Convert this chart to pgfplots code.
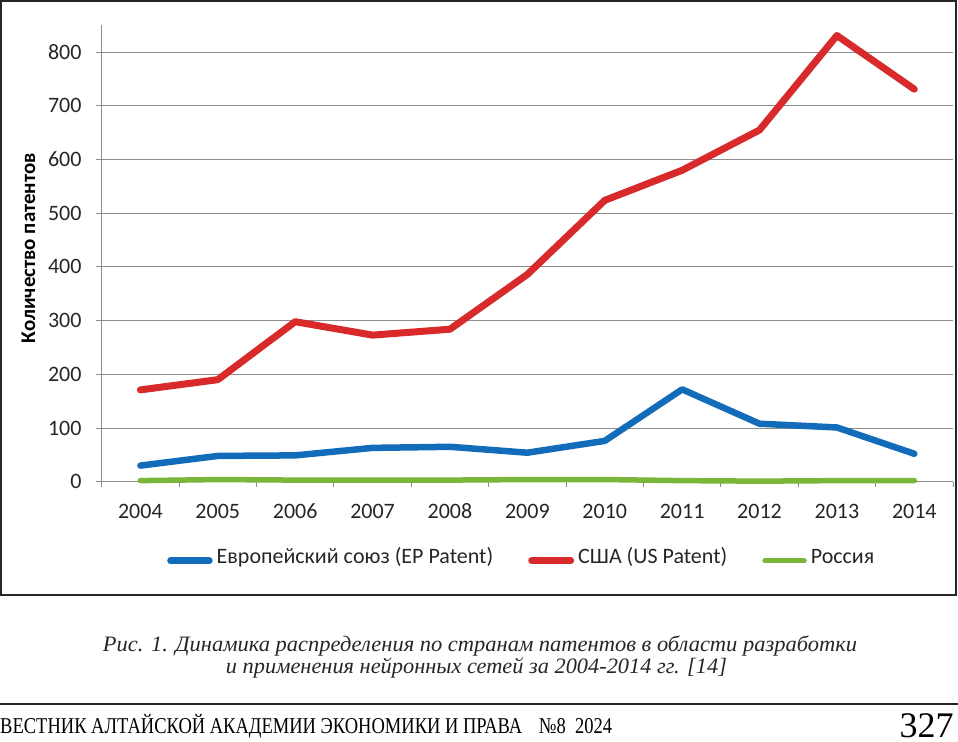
\documentclass[border=0pt]{standalone}
\usepackage{fontspec}
\setmainfont{Carlito}
\newfontfamily\serif{Liberation Serif}
\usepackage{graphicx}
\usepackage{pgfplots}
\pgfplotsset{compat=1.18}
\definecolor{eublue}{RGB}{18,108,186}
\definecolor{usred}{RGB}{216,42,42}
\definecolor{rugreen}{RGB}{122,182,58}
\definecolor{gridgray}{RGB}{140,140,140}
\begin{document}
\begin{tikzpicture}
\useasboundingbox (-101.7bp,-260.3bp) rectangle (856.3bp,481.7bp);
\begin{axis}[
  scale only axis, width=851.3bp, height=456.4bp,
  xmin=-0.5, xmax=10.5, ymin=0, ymax=850,
  axis x line*=bottom, axis y line*=left,
  axis line style={draw=gridgray, line width=1bp, -},
  ytick={0,100,...,800},
  ymajorgrids, grid style={gridgray, line width=1bp},
  xtick={0,...,10},
  xticklabels={2004,2005,2006,2007,2008,2009,2010,2011,2012,2013,2014},
  minor xtick={-0.5,0.5,...,10.5},
  major x tick style={draw=none},
  minor x tick style={draw=gridgray, line width=1bp},
  ytick style={draw=gridgray, line width=1bp},
  tick align=outside, major tick length=6bp, minor tick length=5bp,
  /pgf/number format/assume math mode=true,
  ticklabel style={font=\fontsize{22bp}{26bp}\selectfont, text=black!85},
  yticklabel style={anchor=east, inner sep=0pt, xshift=-14bp},
  xticklabel style={anchor=base, inner sep=0pt, yshift=-30.6bp},
  ylabel={Количество патентов},
  ylabel style={font=\bfseries\fontsize{20.9bp}{24bp}\selectfont, at={(axis description cs:-0.0860,0.5114)}, anchor=center},
  clip=false,
  legend columns=3,
  legend style={draw=none, fill=none, inner sep=0pt, at={(axis description cs:0.0767,-0.1731)}, anchor=west,
    column sep=0pt, nodes={inner sep=0pt, text height=0.84em, text depth=0.2em}, font=\fontsize{22bp}{26bp}\selectfont, text=black!85,
    /tikz/every odd column/.append style={column sep=4bp},
    /tikz/every even column/.append style={column sep=35bp}},
  legend cell align=left,
  legend image code/.code={\draw[#1] (0bp,0bp) -- (39bp,0bp);},
]
\addplot[eublue, line width=6.5bp, line join=round, line cap=round] coordinates {
 (0,30) (1,48) (2,49) (3,63) (4,65) (5,54) (6,76) (7,172) (8,108) (9,101) (10,52)};
\addlegendentry{Европейский союз (EP Patent)}
\addplot[usred, line width=7bp, line join=round, line cap=round] coordinates {
 (0,171) (1,190) (2,298) (3,273) (4,284) (5,386) (6,524) (7,580) (8,655) (9,831) (10,731)};
\addlegendentry{США (US Patent)}
\addplot[rugreen, line width=5.5bp, line join=round, line cap=round] coordinates {
 (0,2) (1,4) (2,3) (3,3) (4,3) (5,4) (6,4) (7,2) (8,1) (9,2) (10,2)};
\addlegendentry{Россия}
\end{axis}
\draw[black!85, line width=1.5bp] (-100.7bp,480.7bp) rectangle (854.3bp,-113.3bp);
\node[anchor=base, inner sep=0pt, font=\serif\itshape\fontsize{22bp}{25bp}\selectfont, text=black!85] at (378.3bp,-170bp)
  {\resizebox{754bp}{\height}{Рис. 1. Динамика распределения по странам патентов в области разработки}};
\node[anchor=base, inner sep=0pt, font=\serif\itshape\fontsize{22bp}{25bp}\selectfont, text=black!85] at (374.8bp,-191.6bp)
  {\resizebox{501bp}{\height}{и применения нейронных сетей за 2004-2014 гг. [14]}};
\draw[line width=1.5bp, black!85] (-101.7bp,-222.3bp) -- (856.3bp,-222.3bp);
\node[anchor=base west, inner sep=0pt, text depth=0pt, font=\serif\fontsize{22.6bp}{26bp}\selectfont] at (-101.7bp,-251.6bp)
  {\resizebox{612bp}{\height}{ВЕСТНИК АЛТАЙСКОЙ АКАДЕМИИ ЭКОНОМИКИ И ПРАВА\hspace{0.9em}№8\hspace{0.5em}2024}};
\node[anchor=base east, inner sep=0pt, text depth=0pt, font=\serif\fontsize{36bp}{40bp}\selectfont] at (852bp,-255.3bp) {327};
\end{tikzpicture}
\end{document}
